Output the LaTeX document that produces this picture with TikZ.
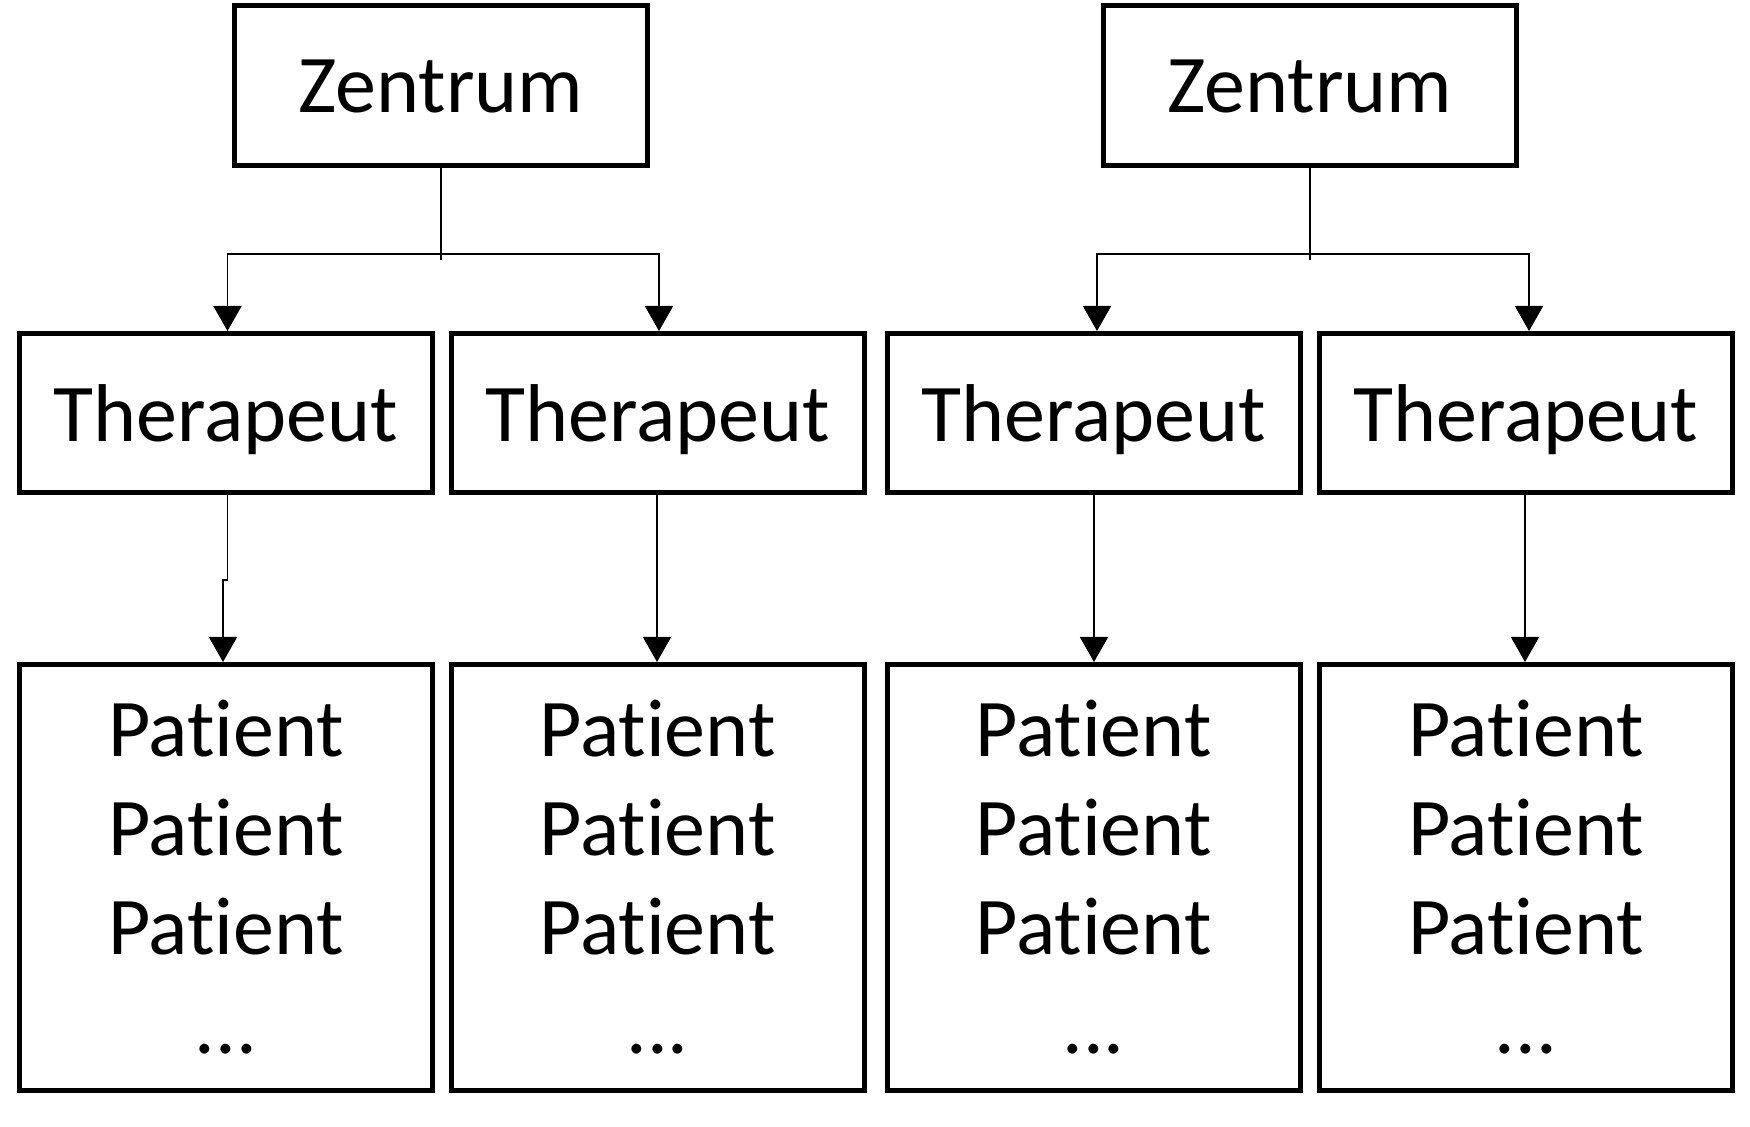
\documentclass[tikz,border=0pt]{standalone}
\usepackage{fontspec}
\setmainfont{Carlito}[Ligatures=NoCommon]
\usetikzlibrary{arrows.meta,calc}
\begin{document}
\begin{tikzpicture}[x=0.5pt,y=-0.5pt,
 box/.style={draw, line width=2.5pt, minimum width=206.5pt, inner sep=0pt, font=\fontsize{41}{49.5}\selectfont},
 zbox/.style={box, minimum height=80pt, text height=27.5pt, text depth=0pt},
 tbox/.style={box, minimum height=79.5pt, text height=29pt, text depth=0pt},
 pbox/.style={box, minimum height=213pt, align=center},
 conn/.style={line width=0.85pt},
 arr/.style={conn, -{Triangle[length=12.5pt,width=14pt]}}]
\fill[white] (0,0) rectangle (1750,1127);
\useasboundingbox (0,0) rectangle (1750,1127);
% boxes
\node[zbox] (zL) at (441,85.5) {Zentrum};
\node[zbox] (zR) at (1310,85.5) {Zentrum};
\node[tbox] (t1) at (226,413) {Therapeut};
\node[tbox] (t2) at (657.5,413) {Therapeut};
\node[tbox] (t3) at (1093.5,413) {Therapeut};
\node[tbox] (t4) at (1526,413) {Therapeut};
\node[pbox] (p1) at (226,877.5) {Patient\\Patient\\Patient\\...};
\node[pbox] (p2) at (657.5,877.5) {Patient\\Patient\\Patient\\...};
\node[pbox] (p3) at (1093.5,877.5) {Patient\\Patient\\Patient\\...};
\node[pbox] (p4) at (1526,877.5) {Patient\\Patient\\Patient\\...};
% centre to therapists
\draw[conn] (zL.south) -- ++(0,92);
\coordinate (jL) at ($(zL.south)+(0,86)$);
\draw[arr] (jL) -| ($(t1.north)+(1.5,0)$);
\draw[arr] (jL) -| ($(t2.north)+(1.5,0)$);
\draw[conn] (zR.south) -- ++(0,92);
\coordinate (jR) at ($(zR.south)+(0,86)$);
\draw[arr] (jR) -| ($(t3.north)+(3.5,0)$);
\draw[arr] (jR) -| ($(t4.north)+(3,0)$);
% therapists to patients
\draw[arr] ($(t1.south)+(1.5,0)$) -- ($(t1.south)+(1.5,85)$) -| ($(p1.north)+(-3,0)$);
\draw[arr] ($(t2.south)+(-0.5,0)$) -- ($(p2.north)+(-0.5,0)$);
\draw[arr] ($(t3.south)+(0.5,0)$) -- ($(p3.north)+(0.5,0)$);
\draw[arr] ($(t4.south)+(-1,0)$) -- ($(p4.north)+(-1,0)$);
\end{tikzpicture}
\end{document}
